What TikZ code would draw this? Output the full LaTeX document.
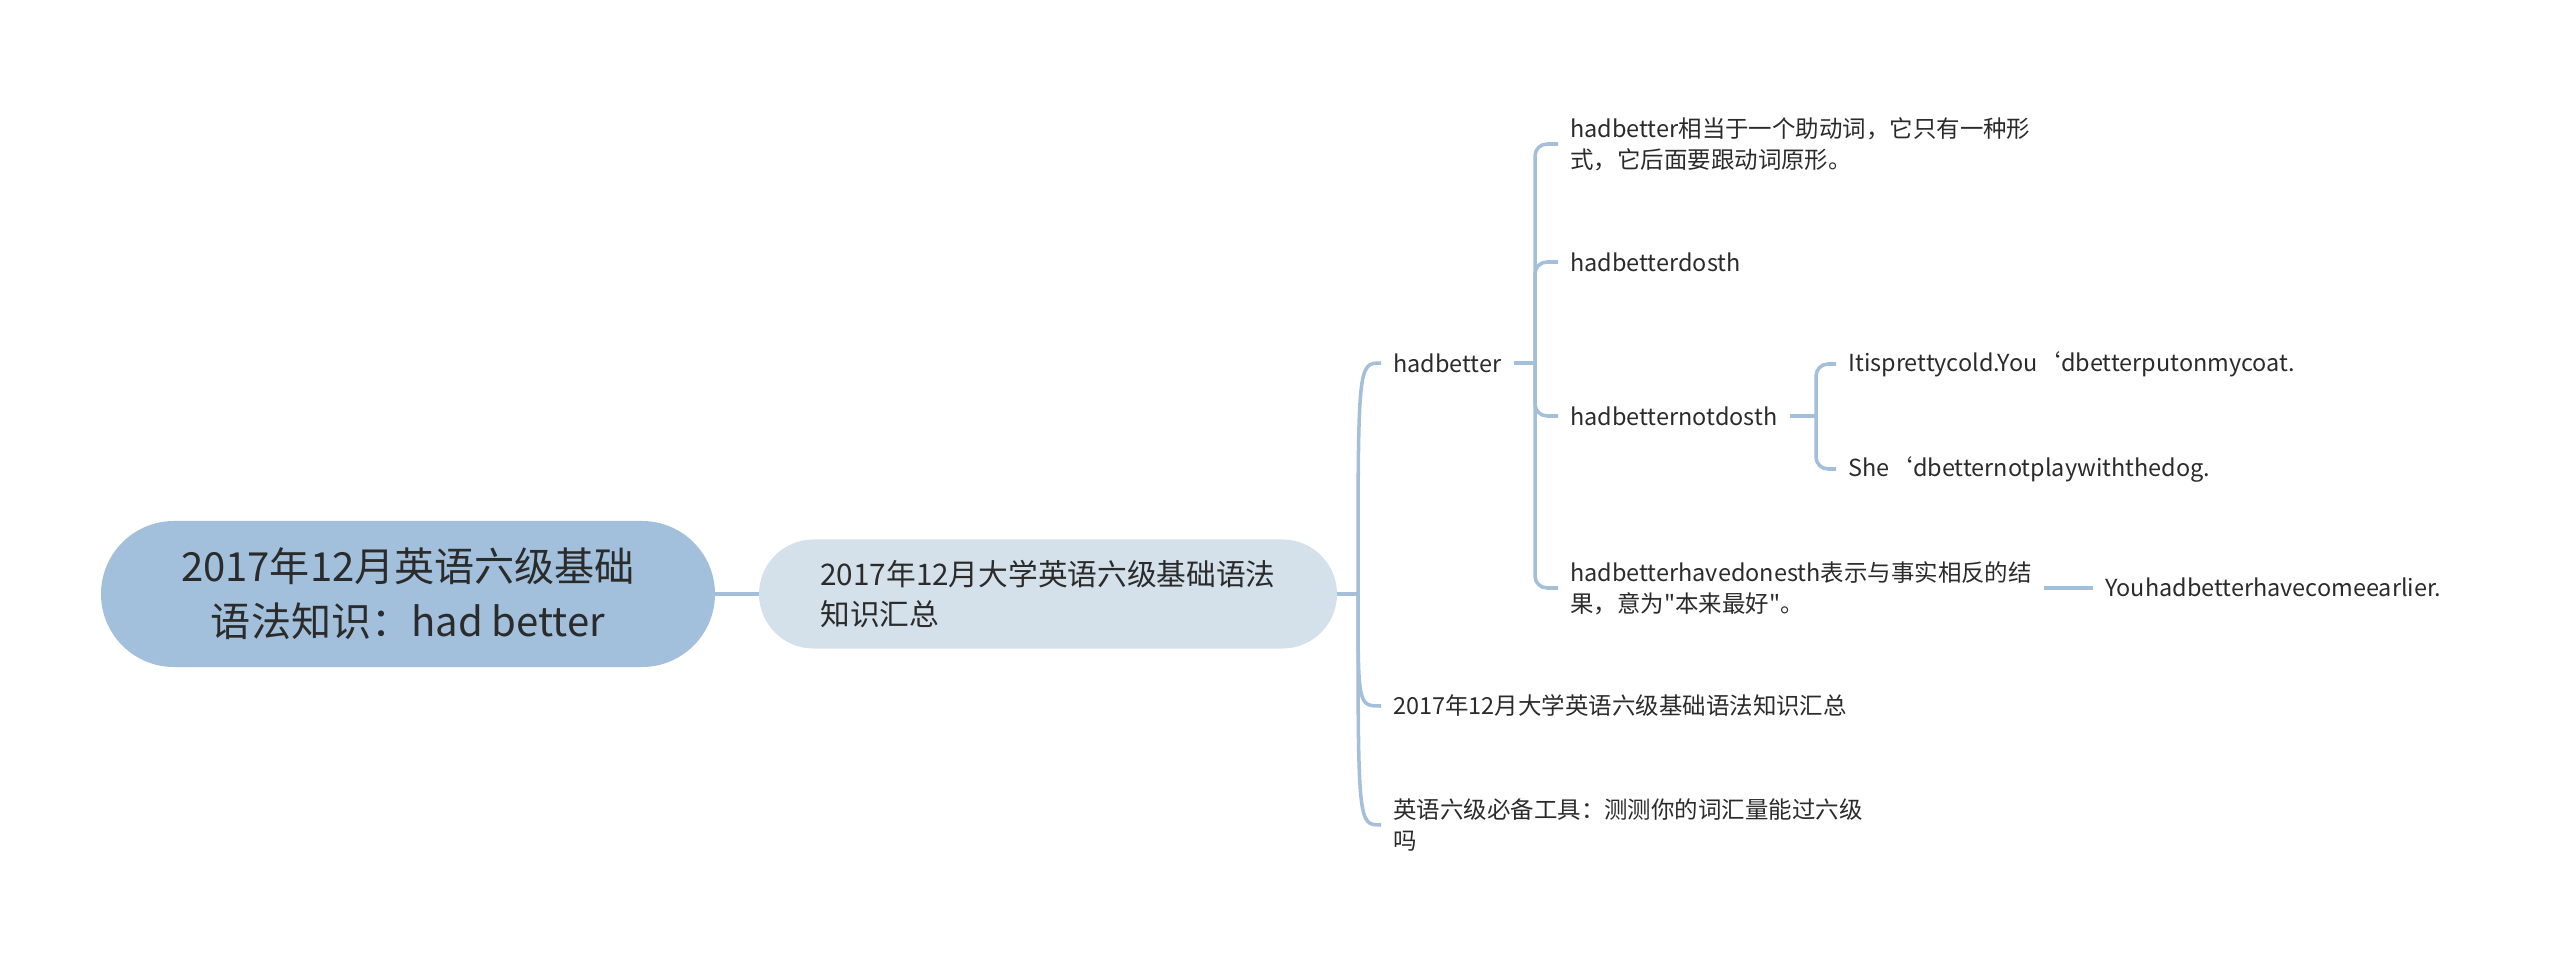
\documentclass[tikz,border=0pt]{standalone}
\usepackage{fontspec}
\setmainfont{Noto Sans CJK SC}
\newfontfamily\mapfont{Noto Sans CJK SC}
\usetikzlibrary{calc}

\definecolor{linkblue}{HTML}{A4BFD9}
\definecolor{topicblue}{HTML}{A2C0DB}
\definecolor{mainfill}{HTML}{D4E0EA}
\definecolor{inkgray}{HTML}{2B2B2B}

\begin{document}
\begin{tikzpicture}[x=2cm, y=2cm,
    link/.style = {line width=2pt, draw=linkblue},
    elbow/.style = {link, rounded corners=0.24cm},
    leaf/.style = {anchor=west, inner xsep=0.24cm, inner ysep=0pt, align=left,
        text=inkgray, font=\mapfont\fontsize{13.35}{17.6}\selectfont}]
    \useasboundingbox (+0.000, +0.000) rectangle (+25.600, -9.660);

    % === Centre of the map ===
    % Topic
    \node[fill=topicblue, rounded corners=1.46cm, minimum width=12.28cm, minimum height=2.92cm,
    align=center, text=inkgray, font=\mapfont\fontsize{22.8}{31.2}\selectfont] (topic) at (+4.080, -5.940)
    {2017年12月英语六级基础\\语法知识：had better};

    % Summary
    \node[fill=mainfill, rounded corners=1.09cm, minimum width=11.56cm, minimum height=2.18cm,
    align=left, text=inkgray, font=\mapfont\fontsize{16.9}{22.7}\selectfont] (summary) at (+10.480, -5.940)
    {2017年12月大学英语六级基础语法\\知识汇总};
    \draw[link] (topic.east) -- (summary.west);

    % === Second level ===
    \coordinate (jsum) at (+13.580, -5.940);
    \node[leaf] (hadbetter) at (+13.810, -3.630) {hadbetter};
    \node[leaf] (title) at (+13.810, -7.060) {2017年12月大学英语六级基础语法知识汇总};
    \node[leaf] (tools) at (+13.810, -8.250) {英语六级必备工具：测测你的词汇量能过六级\\吗};

    \draw[link] (summary.east) -- (jsum);
    \draw[link] (jsum) .. controls (jsum |- hadbetter.west) .. (hadbetter.west);
    \draw[link] (jsum) .. controls (jsum |- title.west) .. (title.west);
    \draw[link] (jsum) .. controls (jsum |- tools.west) .. (tools.west);

    % === Third level (hadbetter) ===
    \coordinate (jhad) at (+15.350, -3.630);
    \node[leaf] (aux) at (+15.580, -1.440) {hadbetter相当于一个助动词，它只有一种形\\式，它后面要跟动词原形。};
    \node[leaf] (dosth) at (+15.580, -2.620) {hadbetterdosth};
    \node[leaf] (notdosth) at (+15.580, -4.160) {hadbetternotdosth};
    \node[leaf] (havedone) at (+15.580, -5.880) {hadbetterhavedonesth表示与事实相反的结\\果，意为"本来最好"。};

    \draw[link] (hadbetter.east) -- (jhad);
    \draw[elbow] (jhad) |- (aux.west);
    \draw[elbow] (jhad) |- (dosth.west);
    \draw[elbow] (jhad) |- (notdosth.west);
    \draw[elbow] (jhad) |- (havedone.west);

    % === Fourth level ===
    % Examples for hadbetternotdosth
    \coordinate (jnot) at (+18.160, -4.160);
    \node[leaf] (cold) at (+18.360, -3.640) {Itisprettycold.You‘dbetterputonmycoat.};
    \node[leaf] (dog) at (+18.360, -4.690) {She‘dbetternotplaywiththedog.};

    \draw[link] (notdosth.east) -- (jnot);
    \draw[elbow] (jnot) |- (cold.west);
    \draw[elbow] (jnot) |- (dog.west);

    % Example for hadbetterhavedonesth
    \node[leaf] (earlier) at (+20.930, -5.870) {Youhadbetterhavecomeearlier.};
    \draw[link] (havedone.east) -- (havedone.east -| earlier.west);
\end{tikzpicture}
\end{document}
